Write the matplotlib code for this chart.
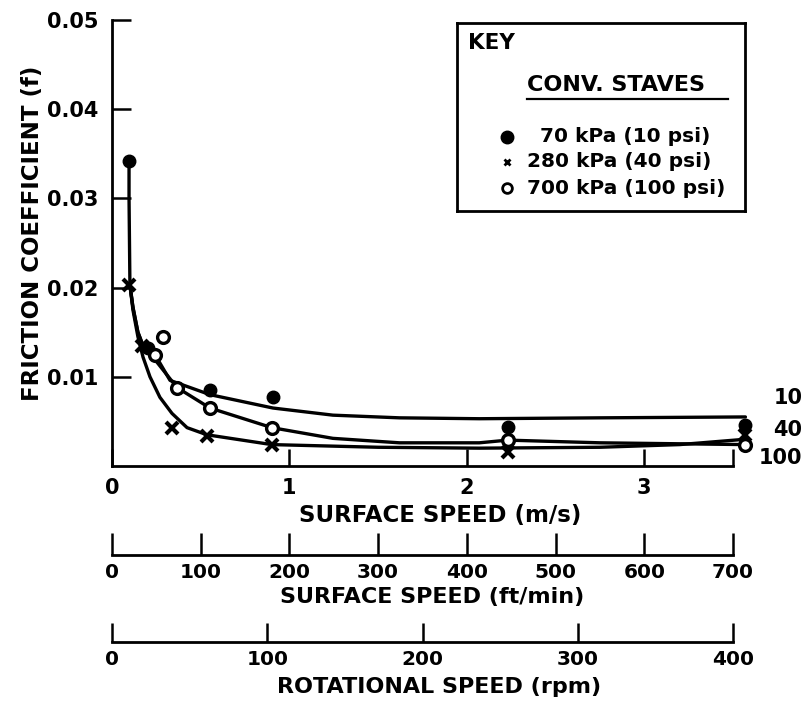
import matplotlib
matplotlib.use("Agg")
from matplotlib import pyplot as plt

# --- data ------------------------------------------------------------------
# measured points (surface speed m/s, friction coefficient)
p10_x = [0.096, 0.203, 0.552, 0.907, 2.23, 3.57]
p10_y = [0.0342, 0.0132, 0.0085, 0.0077, 0.0044, 0.0046]

p40_x = [0.096, 0.17, 0.338, 0.535, 0.90, 2.23, 3.57]
p40_y = [0.0203, 0.0134, 0.0043, 0.0034, 0.0024, 0.0016, 0.0035]

p100_x = [0.287, 0.24, 0.366, 0.552, 0.90, 2.23, 3.57]
p100_y = [0.01445, 0.0124, 0.0088, 0.0065, 0.0043, 0.0029, 0.0024]

# faired curves
c10_x = [0.096, 0.096, 0.101, 0.118, 0.146, 0.169, 0.203, 0.242, 0.327, 0.552,
         0.907, 1.245, 1.62, 2.07, 2.75, 3.57]
c10_y = [0.0342, 0.030, 0.0203, 0.0178, 0.0150, 0.0138, 0.0132, 0.0125, 0.0096,
         0.0080, 0.0065, 0.0057, 0.0054, 0.0053, 0.0054, 0.0055]

c40_x = [0.101, 0.118, 0.146, 0.175, 0.214, 0.270, 0.338, 0.423, 0.535, 0.90,
         1.5, 2.07, 2.75, 3.2, 3.57]
c40_y = [0.0203, 0.0175, 0.0145, 0.0122, 0.0100, 0.0077, 0.0059, 0.0043, 0.0035,
         0.0024, 0.0021, 0.0020, 0.0021, 0.0024, 0.0030]

c100_x = [0.101, 0.118, 0.146, 0.169, 0.203, 0.231, 0.366, 0.552, 0.901, 1.245,
          1.62, 2.07, 2.23, 2.75, 3.57]
c100_y = [0.0203, 0.0178, 0.0150, 0.0138, 0.0130, 0.0122, 0.0088, 0.0065, 0.0043,
          0.0031, 0.0026, 0.0026, 0.0029, 0.0026, 0.0024]

curve_names = ["10", "40", "100"]
curve_label_y = [0.0076, 0.0040, 0.0009]

ms_ticks = [0, 1, 2, 3, 3.5]
ms_labels = ["0", "1", "2", "3", ""]
f_ticks = [0.01, 0.02, 0.03, 0.04, 0.05]
f_labels = ["0.01", "0.02", "0.03", "0.04", "0.05"]
fpm_ticks = [0, 100, 200, 300, 400, 500, 600, 700]
rpm_ticks = [0, 100, 200, 300, 400]

key_entries = ["70 kPa (10 psi)", "280 kPa (40 psi)", "700 kPa (100 psi)"]

plt.rcParams["font.family"] = ["DejaVu Sans"]
plt.rcParams["font.weight"] = "bold"

W, H = 806, 706
fig = plt.figure(figsize=(W / 100, H / 100), dpi=100)


def px(x0, y0, x1, y1):
    # pixel box -> figure fraction rect
    return [x0 / W, 1 - y1 / H, (x1 - x0) / W, (y1 - y0) / H]


ax = fig.add_axes(px(112, 20, 733, 466))
ax.set_xlim(0, 3.5)
ax.set_ylim(0, 0.05)
for s in ["top", "right"]:
    ax.spines[s].set_visible(False)
for s in ["left", "bottom"]:
    ax.spines[s].set_linewidth(2)

lw = 2.4
ax.plot(c10_x, c10_y, color="black", lw=lw, clip_on=False, solid_capstyle="round")
ax.plot(c40_x, c40_y, color="black", lw=lw, clip_on=False, solid_capstyle="round")
ax.plot(c100_x, c100_y, color="black", lw=lw, clip_on=False, solid_capstyle="round")

ax.plot(p10_x, p10_y, "o", ms=9, color="black", clip_on=False, zorder=5)
ax.plot(p40_x, p40_y, "x", ms=9, mew=3, color="black", clip_on=False, zorder=5)
ax.plot(p100_x, p100_y, "o", ms=8.5, mfc="white", mec="black", mew=2.4,
        clip_on=False, zorder=5)

for name, yv in zip(curve_names, curve_label_y):
    ax.text(3.89, yv, name, ha="right", va="center", fontsize=15, clip_on=False)

ax.set_xticks(ms_ticks)
ax.set_xticklabels(ms_labels)
ax.set_yticks(f_ticks)
ax.set_yticklabels(f_labels)
ax.tick_params(axis="x", direction="in", length=12, width=1.8, labelsize=15, pad=9)
ax.tick_params(axis="y", direction="in", length=14, width=1.8, labelsize=15, pad=10)

# extra speed scales under the plot
def scale_axis(rect, upper, ticks, tick_len):
    a = fig.add_axes(rect)
    a.set_xlim(0, upper)
    a.set_ylim(0, 1)
    for s in ["top", "right", "left"]:
        a.spines[s].set_visible(False)
    a.spines["bottom"].set_linewidth(2)
    a.set_yticks([])
    a.set_xticks(ticks)
    a.tick_params(axis="x", direction="in", length=tick_len, width=1.8,
                  labelsize=14.5, pad=6)
    a.patch.set_alpha(0)
    return a


scale_axis(px(112, 520, 733, 555), 700, fpm_ticks, 16)
scale_axis(px(112, 610, 733, 642), 400, rpm_ticks, 14)

fig.text(440 / W, 1 - 522 / H, "SURFACE SPEED (m/s)", ha="center", va="baseline", fontsize=16.5)
fig.text(432 / W, 1 - 603 / H, "SURFACE SPEED (ft/min)", ha="center", va="baseline", fontsize=16)
fig.text(439 / W, 1 - 693 / H, "ROTATIONAL SPEED (rpm)", ha="center", va="baseline", fontsize=16)
fig.text(33 / W, 1 - 233 / H, "FRICTION COEFFICIENT (f)", ha="center", va="center",
         rotation=90, fontsize=16.5)

# key box
key = fig.add_axes(px(457, 23, 745, 211))
key.set_xlim(0, 1)
key.set_ylim(0, 1)
key.set_xticks([])
key.set_yticks([])
for s in key.spines.values():
    s.set_linewidth(2)
key.text(0.038, 0.894, "KEY", ha="left", va="center", fontsize=15.5)
key.text(0.243, 0.670, "CONV. STAVES", ha="left", va="center", fontsize=16)
key.plot([0.243, 0.941], [0.596, 0.596], color="black", lw=1.6)
key.plot([0.174], [0.394], "o", ms=9, color="black")
key.plot([0.174], [0.261], "x", ms=5, mew=2, color="black")
key.plot([0.174], [0.122], "o", ms=7, mfc="white", mec="black", mew=2)
key.text(0.288, 0.394, key_entries[0], ha="left", va="center", fontsize=14.5)
key.text(0.243, 0.261, key_entries[1], ha="left", va="center", fontsize=14.5)
key.text(0.243, 0.122, key_entries[2], ha="left", va="center", fontsize=14.5)

fig.savefig("out.png", dpi=100)
